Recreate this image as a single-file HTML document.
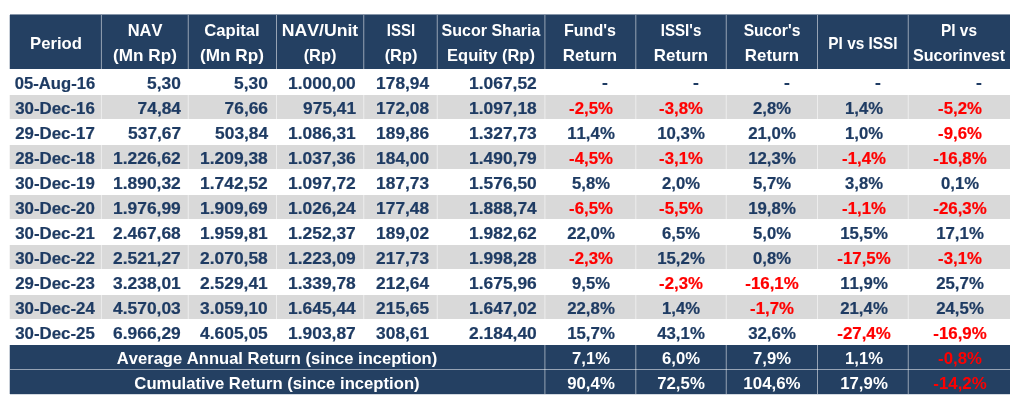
<!DOCTYPE html>
<html lang="en">
<head>
<meta charset="utf-8">
<title>Fund performance table</title>
<style>
html,body{margin:0;padding:0;background:#fff;}
body{width:1023px;height:409px;position:relative;overflow:hidden;font-family:"Liberation Sans",sans-serif;font-weight:bold;font-size:16.4px;color:#1e3b63;font-kerning:none;}
.tbl{position:absolute;left:0;top:0;width:1023px;height:409px;-webkit-text-stroke:0.2px;}
.r{position:absolute;left:10px;width:1000px;}
.c{position:absolute;top:0;height:100%;white-space:nowrap;}
.c span{position:absolute;display:block;white-space:nowrap;line-height:1;}
.ce span{left:50%;transform:translateX(-50%) scaleX(var(--s));transform-origin:50% 50%;}
.ri span{transform:scaleX(var(--s));transform-origin:100% 50%;}
.hd,.sm{background:#244062;color:#fff;-webkit-text-stroke:0;}
.g{background:#d9d9d9;}
.neg{color:#ff0000;}
.v{position:absolute;width:1px;}
.hl{position:absolute;height:1px;}
.fr{position:absolute;}
</style>
</head>
<body>
<div class="tbl">
<div class="r hd" style="top:15px;height:54px">
<div class="c ce" style="left:0px;width:91.25px"><span style="top:20.02px;--s:1.017;margin-left:0.2px;">Period</span></div>
<div class="c ce" style="left:91.25px;width:87px"><span style="top:7.02px;--s:1.004;">NAV</span><span style="top:32.02px;--s:1.046;">(Mn Rp)</span></div>
<div class="c ce" style="left:178.25px;width:88.25px"><span style="top:7.02px;--s:1.015;">Capital</span><span style="top:32.02px;--s:1.046;">(Mn Rp)</span></div>
<div class="c ce" style="left:266.5px;width:87.25px"><span style="top:7.02px;--s:1.076;">NAV/Unit</span><span style="top:32.02px;--s:0.999;">(Rp)</span></div>
<div class="c ce" style="left:353.75px;width:73.5px"><span style="top:7.02px;--s:0.919;">ISSI</span><span style="top:32.02px;--s:0.999;">(Rp)</span></div>
<div class="c ce" style="left:427.25px;width:107.75px"><span style="top:7.02px;--s:0.978;">Sucor Sharia</span><span style="top:32.02px;--s:1.005;">Equity (Rp)</span></div>
<div class="c ce" style="left:535px;width:90.5px"><span style="top:7.02px;--s:0.98;">Fund's</span><span style="top:32.02px;--s:1.028;">Return</span></div>
<div class="c ce" style="left:625.5px;width:90.75px"><span style="top:7.02px;--s:0.924;">ISSI's</span><span style="top:32.02px;--s:1.028;">Return</span></div>
<div class="c ce" style="left:716.25px;width:91.25px"><span style="top:7.02px;--s:0.954;">Sucor's</span><span style="top:32.02px;--s:1.028;">Return</span></div>
<div class="c ce" style="left:807.5px;width:90.75px"><span style="top:20.02px;--s:0.939;">PI vs ISSI</span></div>
<div class="c ce" style="left:898.25px;width:101.75px"><span style="top:7.02px;--s:0.94;">PI vs</span><span style="top:32.02px;--s:0.982;">Sucorinvest</span></div>
</div>
<div class="r" style="top:69px;height:26px">
<div class="c ce" style="left:0px;width:91.25px"><span style="top:5.97px;--s:1.013;margin-left:-0.3px;">05-Aug-16</span></div>
<div class="c ri" style="left:91.25px;width:87px"><span style="top:5.97px;--s:1.059;right:7.6px;">5,30</span></div>
<div class="c ri" style="left:178.25px;width:88.25px"><span style="top:5.97px;--s:1.059;right:8.35px;">5,30</span></div>
<div class="c ri" style="left:266.5px;width:87.25px"><span style="top:5.97px;--s:1.062;right:7.6px;">1.000,00</span></div>
<div class="c ri" style="left:353.75px;width:73.5px"><span style="top:5.97px;--s:1.058;right:8.6px;">178,94</span></div>
<div class="c ri" style="left:427.25px;width:107.75px"><span style="top:5.97px;--s:1.062;right:8.35px;">1.067,52</span></div>
<div class="c ce" style="left:535px;width:90.5px"><span style="top:5.97px;--s:1.064;margin-left:15.05px;margin-top:-1px;">-</span></div>
<div class="c ce" style="left:625.5px;width:90.75px"><span style="top:5.97px;--s:1.064;margin-left:15.05px;margin-top:-1px;">-</span></div>
<div class="c ce" style="left:716.25px;width:91.25px"><span style="top:5.97px;--s:1.064;margin-left:15.05px;margin-top:-1px;">-</span></div>
<div class="c ce" style="left:807.5px;width:90.75px"><span style="top:5.97px;--s:1.064;margin-left:15.05px;margin-top:-1px;">-</span></div>
<div class="c ce" style="left:898.25px;width:101.75px"><span style="top:5.97px;--s:1.064;margin-left:20.15px;margin-top:-1px;">-</span></div>
</div>
<div class="r g" style="top:95px;height:24px">
<div class="c ce" style="left:0px;width:91.25px"><span style="top:4.97px;--s:1.028;margin-left:-0.3px;">30-Dec-16</span></div>
<div class="c ri" style="left:91.25px;width:87px"><span style="top:4.97px;--s:1.058;right:7.6px;">74,84</span></div>
<div class="c ri" style="left:178.25px;width:88.25px"><span style="top:4.97px;--s:1.058;right:8.35px;">76,66</span></div>
<div class="c ri" style="left:266.5px;width:87.25px"><span style="top:4.97px;--s:1.058;right:7.6px;">975,41</span></div>
<div class="c ri" style="left:353.75px;width:73.5px"><span style="top:4.97px;--s:1.058;right:8.6px;">172,08</span></div>
<div class="c ri" style="left:427.25px;width:107.75px"><span style="top:4.97px;--s:1.062;right:8.35px;">1.097,18</span></div>
<div class="c ce" style="left:535px;width:90.5px"><span class="neg" style="top:4.97px;--s:1.023;margin-left:0.5px;">-2,5%</span></div>
<div class="c ce" style="left:625.5px;width:90.75px"><span class="neg" style="top:4.97px;--s:1.023;margin-left:0.5px;">-3,8%</span></div>
<div class="c ce" style="left:716.25px;width:91.25px"><span style="top:4.97px;--s:1.017;margin-left:0.5px;">2,8%</span></div>
<div class="c ce" style="left:807.5px;width:90.75px"><span style="top:4.97px;--s:1.017;margin-left:0.75px;">1,4%</span></div>
<div class="c ce" style="left:898.25px;width:101.75px"><span class="neg" style="top:4.97px;--s:1.023;margin-left:0.75px;">-5,2%</span></div>
</div>
<div class="r" style="top:119px;height:26px">
<div class="c ce" style="left:0px;width:91.25px"><span style="top:5.97px;--s:1.028;margin-left:-0.3px;">29-Dec-17</span></div>
<div class="c ri" style="left:91.25px;width:87px"><span style="top:5.97px;--s:1.058;right:7.6px;">537,67</span></div>
<div class="c ri" style="left:178.25px;width:88.25px"><span style="top:5.97px;--s:1.058;right:8.35px;">503,84</span></div>
<div class="c ri" style="left:266.5px;width:87.25px"><span style="top:5.97px;--s:1.062;right:7.6px;">1.086,31</span></div>
<div class="c ri" style="left:353.75px;width:73.5px"><span style="top:5.97px;--s:1.058;right:8.6px;">189,86</span></div>
<div class="c ri" style="left:427.25px;width:107.75px"><span style="top:5.97px;--s:1.062;right:8.35px;">1.327,73</span></div>
<div class="c ce" style="left:535px;width:90.5px"><span style="top:5.97px;--s:1.025;margin-left:0.5px;">11,4%</span></div>
<div class="c ce" style="left:625.5px;width:90.75px"><span style="top:5.97px;--s:1.025;margin-left:0.5px;">10,3%</span></div>
<div class="c ce" style="left:716.25px;width:91.25px"><span style="top:5.97px;--s:1.025;margin-left:0.5px;">21,0%</span></div>
<div class="c ce" style="left:807.5px;width:90.75px"><span style="top:5.97px;--s:1.017;margin-left:0.75px;">1,0%</span></div>
<div class="c ce" style="left:898.25px;width:101.75px"><span class="neg" style="top:5.97px;--s:1.023;margin-left:0.75px;">-9,6%</span></div>
</div>
<div class="r g" style="top:145px;height:24px">
<div class="c ce" style="left:0px;width:91.25px"><span style="top:4.97px;--s:1.028;margin-left:-0.3px;">28-Dec-18</span></div>
<div class="c ri" style="left:91.25px;width:87px"><span style="top:4.97px;--s:1.062;right:7.6px;">1.226,62</span></div>
<div class="c ri" style="left:178.25px;width:88.25px"><span style="top:4.97px;--s:1.062;right:8.35px;">1.209,38</span></div>
<div class="c ri" style="left:266.5px;width:87.25px"><span style="top:4.97px;--s:1.062;right:7.6px;">1.037,36</span></div>
<div class="c ri" style="left:353.75px;width:73.5px"><span style="top:4.97px;--s:1.058;right:8.6px;">184,00</span></div>
<div class="c ri" style="left:427.25px;width:107.75px"><span style="top:4.97px;--s:1.062;right:8.35px;">1.490,79</span></div>
<div class="c ce" style="left:535px;width:90.5px"><span class="neg" style="top:4.97px;--s:1.023;margin-left:0.5px;">-4,5%</span></div>
<div class="c ce" style="left:625.5px;width:90.75px"><span class="neg" style="top:4.97px;--s:1.023;margin-left:0.5px;">-3,1%</span></div>
<div class="c ce" style="left:716.25px;width:91.25px"><span style="top:4.97px;--s:1.025;margin-left:0.5px;">12,3%</span></div>
<div class="c ce" style="left:807.5px;width:90.75px"><span class="neg" style="top:4.97px;--s:1.023;margin-left:0.75px;">-1,4%</span></div>
<div class="c ce" style="left:898.25px;width:101.75px"><span class="neg" style="top:4.97px;--s:1.029;margin-left:0.75px;">-16,8%</span></div>
</div>
<div class="r" style="top:169px;height:26px">
<div class="c ce" style="left:0px;width:91.25px"><span style="top:5.97px;--s:1.028;margin-left:-0.3px;">30-Dec-19</span></div>
<div class="c ri" style="left:91.25px;width:87px"><span style="top:5.97px;--s:1.062;right:7.6px;">1.890,32</span></div>
<div class="c ri" style="left:178.25px;width:88.25px"><span style="top:5.97px;--s:1.062;right:8.35px;">1.742,52</span></div>
<div class="c ri" style="left:266.5px;width:87.25px"><span style="top:5.97px;--s:1.062;right:7.6px;">1.097,72</span></div>
<div class="c ri" style="left:353.75px;width:73.5px"><span style="top:5.97px;--s:1.058;right:8.6px;">187,73</span></div>
<div class="c ri" style="left:427.25px;width:107.75px"><span style="top:5.97px;--s:1.062;right:8.35px;">1.576,50</span></div>
<div class="c ce" style="left:535px;width:90.5px"><span style="top:5.97px;--s:1.017;margin-left:0.5px;">5,8%</span></div>
<div class="c ce" style="left:625.5px;width:90.75px"><span style="top:5.97px;--s:1.017;margin-left:0.5px;">2,0%</span></div>
<div class="c ce" style="left:716.25px;width:91.25px"><span style="top:5.97px;--s:1.017;margin-left:0.5px;">5,7%</span></div>
<div class="c ce" style="left:807.5px;width:90.75px"><span style="top:5.97px;--s:1.017;margin-left:0.75px;">3,8%</span></div>
<div class="c ce" style="left:898.25px;width:101.75px"><span style="top:5.97px;--s:1.017;margin-left:0.75px;">0,1%</span></div>
</div>
<div class="r g" style="top:195px;height:24px">
<div class="c ce" style="left:0px;width:91.25px"><span style="top:4.97px;--s:1.028;margin-left:-0.3px;">30-Dec-20</span></div>
<div class="c ri" style="left:91.25px;width:87px"><span style="top:4.97px;--s:1.062;right:7.6px;">1.976,99</span></div>
<div class="c ri" style="left:178.25px;width:88.25px"><span style="top:4.97px;--s:1.062;right:8.35px;">1.909,69</span></div>
<div class="c ri" style="left:266.5px;width:87.25px"><span style="top:4.97px;--s:1.062;right:7.6px;">1.026,24</span></div>
<div class="c ri" style="left:353.75px;width:73.5px"><span style="top:4.97px;--s:1.058;right:8.6px;">177,48</span></div>
<div class="c ri" style="left:427.25px;width:107.75px"><span style="top:4.97px;--s:1.062;right:8.35px;">1.888,74</span></div>
<div class="c ce" style="left:535px;width:90.5px"><span class="neg" style="top:4.97px;--s:1.023;margin-left:0.5px;">-6,5%</span></div>
<div class="c ce" style="left:625.5px;width:90.75px"><span class="neg" style="top:4.97px;--s:1.023;margin-left:0.5px;">-5,5%</span></div>
<div class="c ce" style="left:716.25px;width:91.25px"><span style="top:4.97px;--s:1.025;margin-left:0.5px;">19,8%</span></div>
<div class="c ce" style="left:807.5px;width:90.75px"><span class="neg" style="top:4.97px;--s:1.023;margin-left:0.75px;">-1,1%</span></div>
<div class="c ce" style="left:898.25px;width:101.75px"><span class="neg" style="top:4.97px;--s:1.029;margin-left:0.75px;">-26,3%</span></div>
</div>
<div class="r" style="top:219px;height:26px">
<div class="c ce" style="left:0px;width:91.25px"><span style="top:5.97px;--s:1.028;margin-left:-0.3px;">30-Dec-21</span></div>
<div class="c ri" style="left:91.25px;width:87px"><span style="top:5.97px;--s:1.062;right:7.6px;">2.467,68</span></div>
<div class="c ri" style="left:178.25px;width:88.25px"><span style="top:5.97px;--s:1.062;right:8.35px;">1.959,81</span></div>
<div class="c ri" style="left:266.5px;width:87.25px"><span style="top:5.97px;--s:1.062;right:7.6px;">1.252,37</span></div>
<div class="c ri" style="left:353.75px;width:73.5px"><span style="top:5.97px;--s:1.058;right:8.6px;">189,02</span></div>
<div class="c ri" style="left:427.25px;width:107.75px"><span style="top:5.97px;--s:1.062;right:8.35px;">1.982,62</span></div>
<div class="c ce" style="left:535px;width:90.5px"><span style="top:5.97px;--s:1.025;margin-left:0.5px;">22,0%</span></div>
<div class="c ce" style="left:625.5px;width:90.75px"><span style="top:5.97px;--s:1.017;margin-left:0.5px;">6,5%</span></div>
<div class="c ce" style="left:716.25px;width:91.25px"><span style="top:5.97px;--s:1.017;margin-left:0.5px;">5,0%</span></div>
<div class="c ce" style="left:807.5px;width:90.75px"><span style="top:5.97px;--s:1.025;margin-left:0.75px;">15,5%</span></div>
<div class="c ce" style="left:898.25px;width:101.75px"><span style="top:5.97px;--s:1.025;margin-left:0.75px;">17,1%</span></div>
</div>
<div class="r g" style="top:245px;height:24px">
<div class="c ce" style="left:0px;width:91.25px"><span style="top:4.97px;--s:1.028;margin-left:-0.3px;">30-Dec-22</span></div>
<div class="c ri" style="left:91.25px;width:87px"><span style="top:4.97px;--s:1.062;right:7.6px;">2.521,27</span></div>
<div class="c ri" style="left:178.25px;width:88.25px"><span style="top:4.97px;--s:1.062;right:8.35px;">2.070,58</span></div>
<div class="c ri" style="left:266.5px;width:87.25px"><span style="top:4.97px;--s:1.062;right:7.6px;">1.223,09</span></div>
<div class="c ri" style="left:353.75px;width:73.5px"><span style="top:4.97px;--s:1.058;right:8.6px;">217,73</span></div>
<div class="c ri" style="left:427.25px;width:107.75px"><span style="top:4.97px;--s:1.062;right:8.35px;">1.998,28</span></div>
<div class="c ce" style="left:535px;width:90.5px"><span class="neg" style="top:4.97px;--s:1.023;margin-left:0.5px;">-2,3%</span></div>
<div class="c ce" style="left:625.5px;width:90.75px"><span style="top:4.97px;--s:1.025;margin-left:0.5px;">15,2%</span></div>
<div class="c ce" style="left:716.25px;width:91.25px"><span style="top:4.97px;--s:1.017;margin-left:0.5px;">0,8%</span></div>
<div class="c ce" style="left:807.5px;width:90.75px"><span class="neg" style="top:4.97px;--s:1.029;margin-left:0.75px;">-17,5%</span></div>
<div class="c ce" style="left:898.25px;width:101.75px"><span class="neg" style="top:4.97px;--s:1.023;margin-left:0.75px;">-3,1%</span></div>
</div>
<div class="r" style="top:269px;height:26px">
<div class="c ce" style="left:0px;width:91.25px"><span style="top:5.97px;--s:1.028;margin-left:-0.3px;">29-Dec-23</span></div>
<div class="c ri" style="left:91.25px;width:87px"><span style="top:5.97px;--s:1.062;right:7.6px;">3.238,01</span></div>
<div class="c ri" style="left:178.25px;width:88.25px"><span style="top:5.97px;--s:1.062;right:8.35px;">2.529,41</span></div>
<div class="c ri" style="left:266.5px;width:87.25px"><span style="top:5.97px;--s:1.062;right:7.6px;">1.339,78</span></div>
<div class="c ri" style="left:353.75px;width:73.5px"><span style="top:5.97px;--s:1.058;right:8.6px;">212,64</span></div>
<div class="c ri" style="left:427.25px;width:107.75px"><span style="top:5.97px;--s:1.062;right:8.35px;">1.675,96</span></div>
<div class="c ce" style="left:535px;width:90.5px"><span style="top:5.97px;--s:1.017;margin-left:0.5px;">9,5%</span></div>
<div class="c ce" style="left:625.5px;width:90.75px"><span class="neg" style="top:5.97px;--s:1.023;margin-left:0.5px;">-2,3%</span></div>
<div class="c ce" style="left:716.25px;width:91.25px"><span class="neg" style="top:5.97px;--s:1.029;margin-left:0.5px;">-16,1%</span></div>
<div class="c ce" style="left:807.5px;width:90.75px"><span style="top:5.97px;--s:1.025;margin-left:0.75px;">11,9%</span></div>
<div class="c ce" style="left:898.25px;width:101.75px"><span style="top:5.97px;--s:1.025;margin-left:0.75px;">25,7%</span></div>
</div>
<div class="r g" style="top:295px;height:24px">
<div class="c ce" style="left:0px;width:91.25px"><span style="top:4.97px;--s:1.028;margin-left:-0.3px;">30-Dec-24</span></div>
<div class="c ri" style="left:91.25px;width:87px"><span style="top:4.97px;--s:1.062;right:7.6px;">4.570,03</span></div>
<div class="c ri" style="left:178.25px;width:88.25px"><span style="top:4.97px;--s:1.062;right:8.35px;">3.059,10</span></div>
<div class="c ri" style="left:266.5px;width:87.25px"><span style="top:4.97px;--s:1.062;right:7.6px;">1.645,44</span></div>
<div class="c ri" style="left:353.75px;width:73.5px"><span style="top:4.97px;--s:1.058;right:8.6px;">215,65</span></div>
<div class="c ri" style="left:427.25px;width:107.75px"><span style="top:4.97px;--s:1.062;right:8.35px;">1.647,02</span></div>
<div class="c ce" style="left:535px;width:90.5px"><span style="top:4.97px;--s:1.025;margin-left:0.5px;">22,8%</span></div>
<div class="c ce" style="left:625.5px;width:90.75px"><span style="top:4.97px;--s:1.017;margin-left:0.5px;">1,4%</span></div>
<div class="c ce" style="left:716.25px;width:91.25px"><span class="neg" style="top:4.97px;--s:1.023;margin-left:0.5px;">-1,7%</span></div>
<div class="c ce" style="left:807.5px;width:90.75px"><span style="top:4.97px;--s:1.025;margin-left:0.75px;">21,4%</span></div>
<div class="c ce" style="left:898.25px;width:101.75px"><span style="top:4.97px;--s:1.025;margin-left:0.75px;">24,5%</span></div>
</div>
<div class="r" style="top:319px;height:26px">
<div class="c ce" style="left:0px;width:91.25px"><span style="top:5.97px;--s:1.028;margin-left:-0.3px;">30-Dec-25</span></div>
<div class="c ri" style="left:91.25px;width:87px"><span style="top:5.97px;--s:1.062;right:7.6px;">6.966,29</span></div>
<div class="c ri" style="left:178.25px;width:88.25px"><span style="top:5.97px;--s:1.062;right:8.35px;">4.605,05</span></div>
<div class="c ri" style="left:266.5px;width:87.25px"><span style="top:5.97px;--s:1.062;right:7.6px;">1.903,87</span></div>
<div class="c ri" style="left:353.75px;width:73.5px"><span style="top:5.97px;--s:1.058;right:8.6px;">308,61</span></div>
<div class="c ri" style="left:427.25px;width:107.75px"><span style="top:5.97px;--s:1.062;right:8.35px;">2.184,40</span></div>
<div class="c ce" style="left:535px;width:90.5px"><span style="top:5.97px;--s:1.025;margin-left:0.5px;">15,7%</span></div>
<div class="c ce" style="left:625.5px;width:90.75px"><span style="top:5.97px;--s:1.025;margin-left:0.5px;">43,1%</span></div>
<div class="c ce" style="left:716.25px;width:91.25px"><span style="top:5.97px;--s:1.025;margin-left:0.5px;">32,6%</span></div>
<div class="c ce" style="left:807.5px;width:90.75px"><span class="neg" style="top:5.97px;--s:1.029;margin-left:0.75px;">-27,4%</span></div>
<div class="c ce" style="left:898.25px;width:101.75px"><span class="neg" style="top:5.97px;--s:1.029;margin-left:0.75px;">-16,9%</span></div>
</div>
<div class="r sm" style="top:345px;height:25px">
<div class="c ce" style="left:0px;width:535px"><span style="top:4.97px;--s:1.011;margin-left:-0.7px;">Average Annual Return (since inception)</span></div>
<div class="c ce" style="left:535px;width:90.5px"><span style="top:4.97px;--s:1.017;margin-left:0.5px;">7,1%</span></div>
<div class="c ce" style="left:625.5px;width:90.75px"><span style="top:4.97px;--s:1.017;margin-left:0.5px;">6,0%</span></div>
<div class="c ce" style="left:716.25px;width:91.25px"><span style="top:4.97px;--s:1.017;margin-left:0.5px;">7,9%</span></div>
<div class="c ce" style="left:807.5px;width:90.75px"><span style="top:4.97px;--s:1.017;margin-left:0.75px;">1,1%</span></div>
<div class="c ce" style="left:898.25px;width:101.75px"><span class="neg" style="top:4.97px;--s:1.023;margin-left:0.75px;">-0,8%</span></div>
</div>
<div class="r sm" style="top:370px;height:24px">
<div class="c ce" style="left:0px;width:535px"><span style="top:4.97px;--s:1.017;margin-left:-0.7px;">Cumulative Return (since inception)</span></div>
<div class="c ce" style="left:535px;width:90.5px"><span style="top:4.97px;--s:1.025;margin-left:0.5px;">90,4%</span></div>
<div class="c ce" style="left:625.5px;width:90.75px"><span style="top:4.97px;--s:1.025;margin-left:0.5px;">72,5%</span></div>
<div class="c ce" style="left:716.25px;width:91.25px"><span style="top:4.97px;--s:1.03;margin-left:0.5px;">104,6%</span></div>
<div class="c ce" style="left:807.5px;width:90.75px"><span style="top:4.97px;--s:1.025;margin-left:0.75px;">17,9%</span></div>
<div class="c ce" style="left:898.25px;width:101.75px"><span class="neg" style="top:4.97px;--s:1.029;margin-left:0.75px;">-14,2%</span></div>
</div>
<div class="v" style="left:100px;top:15px;height:54px;background:rgba(255,255,255,0.052)"></div><div class="v" style="left:101px;top:15px;height:54px;background:rgba(255,255,255,0.468)"></div>
<div class="v" style="left:100px;top:95px;height:24px;background:rgba(255,255,255,0.052)"></div><div class="v" style="left:101px;top:95px;height:24px;background:rgba(255,255,255,0.468)"></div>
<div class="v" style="left:100px;top:145px;height:24px;background:rgba(255,255,255,0.052)"></div><div class="v" style="left:101px;top:145px;height:24px;background:rgba(255,255,255,0.468)"></div>
<div class="v" style="left:100px;top:195px;height:24px;background:rgba(255,255,255,0.052)"></div><div class="v" style="left:101px;top:195px;height:24px;background:rgba(255,255,255,0.468)"></div>
<div class="v" style="left:100px;top:245px;height:24px;background:rgba(255,255,255,0.052)"></div><div class="v" style="left:101px;top:245px;height:24px;background:rgba(255,255,255,0.468)"></div>
<div class="v" style="left:100px;top:295px;height:24px;background:rgba(255,255,255,0.052)"></div><div class="v" style="left:101px;top:295px;height:24px;background:rgba(255,255,255,0.468)"></div>
<div class="v" style="left:187px;top:15px;height:54px;background:rgba(255,255,255,0.13)"></div><div class="v" style="left:188px;top:15px;height:54px;background:rgba(255,255,255,0.39)"></div>
<div class="v" style="left:187px;top:95px;height:24px;background:rgba(255,255,255,0.13)"></div><div class="v" style="left:188px;top:95px;height:24px;background:rgba(255,255,255,0.39)"></div>
<div class="v" style="left:187px;top:145px;height:24px;background:rgba(255,255,255,0.13)"></div><div class="v" style="left:188px;top:145px;height:24px;background:rgba(255,255,255,0.39)"></div>
<div class="v" style="left:187px;top:195px;height:24px;background:rgba(255,255,255,0.13)"></div><div class="v" style="left:188px;top:195px;height:24px;background:rgba(255,255,255,0.39)"></div>
<div class="v" style="left:187px;top:245px;height:24px;background:rgba(255,255,255,0.13)"></div><div class="v" style="left:188px;top:245px;height:24px;background:rgba(255,255,255,0.39)"></div>
<div class="v" style="left:187px;top:295px;height:24px;background:rgba(255,255,255,0.13)"></div><div class="v" style="left:188px;top:295px;height:24px;background:rgba(255,255,255,0.39)"></div>
<div class="v" style="left:276px;top:15px;height:54px;background:rgba(255,255,255,0.52)"></div>
<div class="v" style="left:276px;top:95px;height:24px;background:rgba(255,255,255,0.52)"></div>
<div class="v" style="left:276px;top:145px;height:24px;background:rgba(255,255,255,0.52)"></div>
<div class="v" style="left:276px;top:195px;height:24px;background:rgba(255,255,255,0.52)"></div>
<div class="v" style="left:276px;top:245px;height:24px;background:rgba(255,255,255,0.52)"></div>
<div class="v" style="left:276px;top:295px;height:24px;background:rgba(255,255,255,0.52)"></div>
<div class="v" style="left:363px;top:15px;height:54px;background:rgba(255,255,255,0.39)"></div><div class="v" style="left:364px;top:15px;height:54px;background:rgba(255,255,255,0.13)"></div>
<div class="v" style="left:363px;top:95px;height:24px;background:rgba(255,255,255,0.39)"></div><div class="v" style="left:364px;top:95px;height:24px;background:rgba(255,255,255,0.13)"></div>
<div class="v" style="left:363px;top:145px;height:24px;background:rgba(255,255,255,0.39)"></div><div class="v" style="left:364px;top:145px;height:24px;background:rgba(255,255,255,0.13)"></div>
<div class="v" style="left:363px;top:195px;height:24px;background:rgba(255,255,255,0.39)"></div><div class="v" style="left:364px;top:195px;height:24px;background:rgba(255,255,255,0.13)"></div>
<div class="v" style="left:363px;top:245px;height:24px;background:rgba(255,255,255,0.39)"></div><div class="v" style="left:364px;top:245px;height:24px;background:rgba(255,255,255,0.13)"></div>
<div class="v" style="left:363px;top:295px;height:24px;background:rgba(255,255,255,0.39)"></div><div class="v" style="left:364px;top:295px;height:24px;background:rgba(255,255,255,0.13)"></div>
<div class="v" style="left:436px;top:15px;height:54px;background:rgba(255,255,255,0.13)"></div><div class="v" style="left:437px;top:15px;height:54px;background:rgba(255,255,255,0.39)"></div>
<div class="v" style="left:436px;top:95px;height:24px;background:rgba(255,255,255,0.13)"></div><div class="v" style="left:437px;top:95px;height:24px;background:rgba(255,255,255,0.39)"></div>
<div class="v" style="left:436px;top:145px;height:24px;background:rgba(255,255,255,0.13)"></div><div class="v" style="left:437px;top:145px;height:24px;background:rgba(255,255,255,0.39)"></div>
<div class="v" style="left:436px;top:195px;height:24px;background:rgba(255,255,255,0.13)"></div><div class="v" style="left:437px;top:195px;height:24px;background:rgba(255,255,255,0.39)"></div>
<div class="v" style="left:436px;top:245px;height:24px;background:rgba(255,255,255,0.13)"></div><div class="v" style="left:437px;top:245px;height:24px;background:rgba(255,255,255,0.39)"></div>
<div class="v" style="left:436px;top:295px;height:24px;background:rgba(255,255,255,0.13)"></div><div class="v" style="left:437px;top:295px;height:24px;background:rgba(255,255,255,0.39)"></div>
<div class="v" style="left:544px;top:15px;height:54px;background:rgba(255,255,255,0.312)"></div><div class="v" style="left:545px;top:15px;height:54px;background:rgba(255,255,255,0.208)"></div>
<div class="v" style="left:544px;top:95px;height:24px;background:rgba(255,255,255,0.312)"></div><div class="v" style="left:545px;top:95px;height:24px;background:rgba(255,255,255,0.208)"></div>
<div class="v" style="left:544px;top:145px;height:24px;background:rgba(255,255,255,0.312)"></div><div class="v" style="left:545px;top:145px;height:24px;background:rgba(255,255,255,0.208)"></div>
<div class="v" style="left:544px;top:195px;height:24px;background:rgba(255,255,255,0.312)"></div><div class="v" style="left:545px;top:195px;height:24px;background:rgba(255,255,255,0.208)"></div>
<div class="v" style="left:544px;top:245px;height:24px;background:rgba(255,255,255,0.312)"></div><div class="v" style="left:545px;top:245px;height:24px;background:rgba(255,255,255,0.208)"></div>
<div class="v" style="left:544px;top:295px;height:24px;background:rgba(255,255,255,0.312)"></div><div class="v" style="left:545px;top:295px;height:24px;background:rgba(255,255,255,0.208)"></div>
<div class="v" style="left:635px;top:15px;height:54px;background:rgba(255,255,255,0.364)"></div><div class="v" style="left:636px;top:15px;height:54px;background:rgba(255,255,255,0.156)"></div>
<div class="v" style="left:635px;top:95px;height:24px;background:rgba(255,255,255,0.364)"></div><div class="v" style="left:636px;top:95px;height:24px;background:rgba(255,255,255,0.156)"></div>
<div class="v" style="left:635px;top:145px;height:24px;background:rgba(255,255,255,0.364)"></div><div class="v" style="left:636px;top:145px;height:24px;background:rgba(255,255,255,0.156)"></div>
<div class="v" style="left:635px;top:195px;height:24px;background:rgba(255,255,255,0.364)"></div><div class="v" style="left:636px;top:195px;height:24px;background:rgba(255,255,255,0.156)"></div>
<div class="v" style="left:635px;top:245px;height:24px;background:rgba(255,255,255,0.364)"></div><div class="v" style="left:636px;top:245px;height:24px;background:rgba(255,255,255,0.156)"></div>
<div class="v" style="left:635px;top:295px;height:24px;background:rgba(255,255,255,0.364)"></div><div class="v" style="left:636px;top:295px;height:24px;background:rgba(255,255,255,0.156)"></div>
<div class="v" style="left:725px;top:15px;height:54px;background:rgba(255,255,255,0.13)"></div><div class="v" style="left:726px;top:15px;height:54px;background:rgba(255,255,255,0.39)"></div>
<div class="v" style="left:725px;top:95px;height:24px;background:rgba(255,255,255,0.13)"></div><div class="v" style="left:726px;top:95px;height:24px;background:rgba(255,255,255,0.39)"></div>
<div class="v" style="left:725px;top:145px;height:24px;background:rgba(255,255,255,0.13)"></div><div class="v" style="left:726px;top:145px;height:24px;background:rgba(255,255,255,0.39)"></div>
<div class="v" style="left:725px;top:195px;height:24px;background:rgba(255,255,255,0.13)"></div><div class="v" style="left:726px;top:195px;height:24px;background:rgba(255,255,255,0.39)"></div>
<div class="v" style="left:725px;top:245px;height:24px;background:rgba(255,255,255,0.13)"></div><div class="v" style="left:726px;top:245px;height:24px;background:rgba(255,255,255,0.39)"></div>
<div class="v" style="left:725px;top:295px;height:24px;background:rgba(255,255,255,0.13)"></div><div class="v" style="left:726px;top:295px;height:24px;background:rgba(255,255,255,0.39)"></div>
<div class="v" style="left:817px;top:15px;height:54px;background:rgba(255,255,255,0.52)"></div>
<div class="v" style="left:817px;top:95px;height:24px;background:rgba(255,255,255,0.52)"></div>
<div class="v" style="left:817px;top:145px;height:24px;background:rgba(255,255,255,0.52)"></div>
<div class="v" style="left:817px;top:195px;height:24px;background:rgba(255,255,255,0.52)"></div>
<div class="v" style="left:817px;top:245px;height:24px;background:rgba(255,255,255,0.52)"></div>
<div class="v" style="left:817px;top:295px;height:24px;background:rgba(255,255,255,0.52)"></div>
<div class="v" style="left:907px;top:15px;height:54px;background:rgba(255,255,255,0.13)"></div><div class="v" style="left:908px;top:15px;height:54px;background:rgba(255,255,255,0.39)"></div>
<div class="v" style="left:907px;top:95px;height:24px;background:rgba(255,255,255,0.13)"></div><div class="v" style="left:908px;top:95px;height:24px;background:rgba(255,255,255,0.39)"></div>
<div class="v" style="left:907px;top:145px;height:24px;background:rgba(255,255,255,0.13)"></div><div class="v" style="left:908px;top:145px;height:24px;background:rgba(255,255,255,0.39)"></div>
<div class="v" style="left:907px;top:195px;height:24px;background:rgba(255,255,255,0.13)"></div><div class="v" style="left:908px;top:195px;height:24px;background:rgba(255,255,255,0.39)"></div>
<div class="v" style="left:907px;top:245px;height:24px;background:rgba(255,255,255,0.13)"></div><div class="v" style="left:908px;top:245px;height:24px;background:rgba(255,255,255,0.39)"></div>
<div class="v" style="left:907px;top:295px;height:24px;background:rgba(255,255,255,0.13)"></div><div class="v" style="left:908px;top:295px;height:24px;background:rgba(255,255,255,0.39)"></div>
<div class="v" style="left:544px;top:345px;height:49px;background:rgba(255,255,255,0.312)"></div><div class="v" style="left:545px;top:345px;height:49px;background:rgba(255,255,255,0.208)"></div>
<div class="v" style="left:635px;top:345px;height:49px;background:rgba(255,255,255,0.364)"></div><div class="v" style="left:636px;top:345px;height:49px;background:rgba(255,255,255,0.156)"></div>
<div class="v" style="left:725px;top:345px;height:49px;background:rgba(255,255,255,0.13)"></div><div class="v" style="left:726px;top:345px;height:49px;background:rgba(255,255,255,0.39)"></div>
<div class="v" style="left:817px;top:345px;height:49px;background:rgba(255,255,255,0.52)"></div>
<div class="v" style="left:907px;top:345px;height:49px;background:rgba(255,255,255,0.13)"></div><div class="v" style="left:908px;top:345px;height:49px;background:rgba(255,255,255,0.39)"></div>
<div class="hl" style="left:10px;width:1000px;top:369px;background:rgba(255,255,255,0.52)"></div>
<div class="fr" style="left:10px;top:14px;width:1000px;height:1px;background:#244062;opacity:0.55"></div>
<div class="fr" style="left:9px;top:15px;width:1px;height:54px;background:#244062;opacity:0.25"></div>
<div class="fr" style="left:9px;top:345px;width:1px;height:49px;background:#244062;opacity:0.25"></div>
<div class="fr" style="left:9px;top:95px;width:1px;height:24px;background:#d9d9d9;opacity:0.25"></div>
<div class="fr" style="left:9px;top:145px;width:1px;height:24px;background:#d9d9d9;opacity:0.25"></div>
<div class="fr" style="left:9px;top:195px;width:1px;height:24px;background:#d9d9d9;opacity:0.25"></div>
<div class="fr" style="left:9px;top:245px;width:1px;height:24px;background:#d9d9d9;opacity:0.25"></div>
<div class="fr" style="left:9px;top:295px;width:1px;height:24px;background:#d9d9d9;opacity:0.25"></div>
<div class="fr" style="left:10px;top:394px;width:1000px;height:1px;background:#244062;opacity:0.2"></div>
</div>
</body>
</html>
